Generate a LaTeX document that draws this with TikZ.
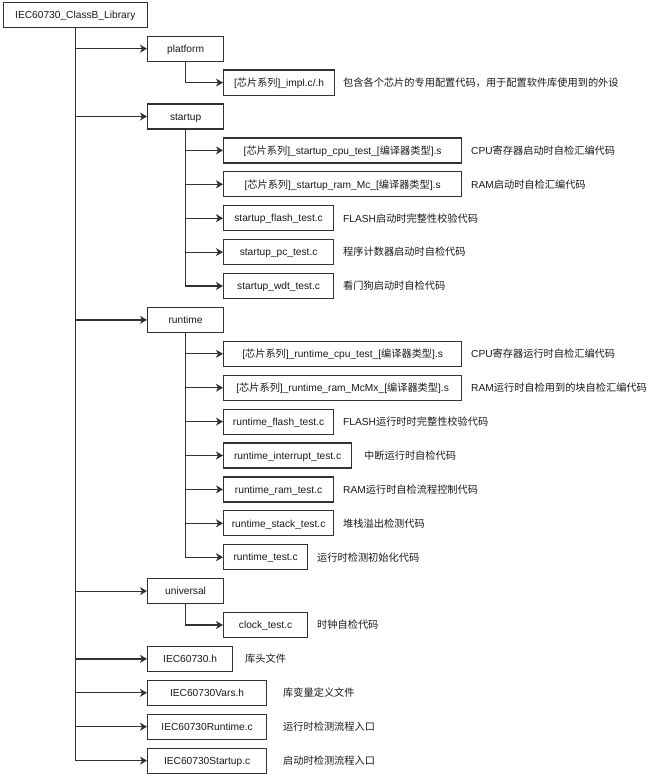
\documentclass[tikz,border=0pt]{standalone}
\usepackage{fontspec}
\setmainfont{Liberation Sans}
\newfontfamily\cjk{Noto Sans CJK SC}
\newcommand{\zh}[1]{{\cjk #1}}
\usetikzlibrary{arrows.meta}

\tikzset{
    box/.style={draw=black!80, line width=1.2pt, anchor=west, minimum height=25,
        inner sep=2pt, text height=9pt, text depth=1.5pt, text=black!90,
        font=\fontsize{10.2}{12}\selectfont},
    note/.style={anchor=west, inner sep=0pt, text=black!90,
        font=\fontsize{10.2}{12}\selectfont},
    link/.style={draw=black!80, line width=1.2pt,
        -{Stealth[length=7pt, width=8pt, inset=2pt]}},
}

\begin{document}
\begin{tikzpicture}[x=1pt, y=-1pt]
    \def \dy {33.9};
    \def \yo {14.8};
    \def \xa {147};
    \def \xb {223};

    \useasboundingbox (0,0) rectangle (659,784);

    % root
    \node[box, minimum width=144] (root) at (2.7, \yo) {IEC60730\_ClassB\_Library};

    % first level
    \node[box, minimum width=76] (platform) at (\xa, \yo+1*\dy) {platform};
    \node[box, minimum width=76] (startup) at (\xa, \yo+3*\dy) {startup};
    \node[box, minimum width=76] (runtime) at (\xa, \yo+9*\dy) {runtime};
    \node[box, minimum width=76] (universal) at (\xa, \yo+17*\dy) {universal};
    \node[box, minimum width=85] (hfile) at (\xa, \yo+19*\dy) {IEC60730.h};
    \node[box, minimum width=119] (vars) at (\xa, \yo+20*\dy) {IEC60730Vars.h};
    \node[box, minimum width=119] (rtmain) at (\xa, \yo+21*\dy) {IEC60730Runtime.c};
    \node[box, minimum width=119] (stmain) at (\xa, \yo+22*\dy) {IEC60730Startup.c};

    % second level
    \node[box, minimum width=111] (impl) at (\xb, \yo+2*\dy) {[\zh{芯片系列}]\_impl.c/.h};

    \node[box, minimum width=238] (scpu) at (\xb, \yo+4*\dy) {[\zh{芯片系列}]\_startup\_cpu\_test\_[\zh{编译器类型}].s};
    \node[box, minimum width=238] (sram) at (\xb, \yo+5*\dy) {[\zh{芯片系列}]\_startup\_ram\_Mc\_[\zh{编译器类型}].s};
    \node[box, minimum width=110] (sflash) at (\xb, \yo+6*\dy) {startup\_flash\_test.c};
    \node[box, minimum width=110] (spc) at (\xb, \yo+7*\dy) {startup\_pc\_test.c};
    \node[box, minimum width=110] (swdt) at (\xb, \yo+8*\dy) {startup\_wdt\_test.c};

    \node[box, minimum width=238] (rcpu) at (\xb, \yo+10*\dy) {[\zh{芯片系列}]\_runtime\_cpu\_test\_[\zh{编译器类型}].s};
    \node[box, minimum width=238] (rram) at (\xb, \yo+11*\dy) {[\zh{芯片系列}]\_runtime\_ram\_McMx\_[\zh{编译器类型}].s};
    \node[box, minimum width=110] (rflash) at (\xb, \yo+12*\dy) {runtime\_flash\_test.c};
    \node[box, minimum width=128] (rint) at (\xb, \yo+13*\dy) {runtime\_interrupt\_test.c};
    \node[box, minimum width=110] (rram2) at (\xb, \yo+14*\dy) {runtime\_ram\_test.c};
    \node[box, minimum width=110] (rstack) at (\xb, \yo+15*\dy) {runtime\_stack\_test.c};
    \node[box, minimum width=84] (rtest) at (\xb, \yo+16*\dy) {runtime\_test.c};

    \node[box, minimum width=84] (clock) at (\xb, \yo+18*\dy) {clock\_test.c};

    % descriptions
    \node[note] (implnote) at (343, \yo+2*\dy) {\zh{包含各个芯片的专用配置代码，用于配置软件库使用到的外设}};
    \node[note] (scpunote) at (471, \yo+4*\dy) {CPU\zh{寄存器启动时自检汇编代码}};
    \node[note] (sramnote) at (471, \yo+5*\dy) {RAM\zh{启动时自检汇编代码}};
    \node[note] (sflashnote) at (343, \yo+6*\dy) {FLASH\zh{启动时完整性校验代码}};
    \node[note] (spcnote) at (343, \yo+7*\dy) {\zh{程序计数器启动时自检代码}};
    \node[note] (swdtnote) at (343, \yo+8*\dy) {\zh{看门狗启动时自检代码}};
    \node[note] (rcpunote) at (471, \yo+10*\dy) {CPU\zh{寄存器运行时自检汇编代码}};
    \node[note] (rramnote) at (471, \yo+11*\dy) {RAM\zh{运行时自检用到的块自检汇编代码}};
    \node[note] (rflashnote) at (343, \yo+12*\dy) {FLASH\zh{运行时时完整性校验代码}};
    \node[note] (rintnote) at (364, \yo+13*\dy) {\zh{中断运行时自检代码}};
    \node[note] (rram2note) at (343, \yo+14*\dy) {RAM\zh{运行时自检流程控制代码}};
    \node[note] (rstacknote) at (343, \yo+15*\dy) {\zh{堆栈溢出检测代码}};
    \node[note] (rtestnote) at (317, \yo+16*\dy) {\zh{运行时检测初始化代码}};
    \node[note] (clocknote) at (317, \yo+18*\dy) {\zh{时钟自检代码}};
    \node[note] (hfilenote) at (245, \yo+19*\dy) {\zh{库头文件}};
    \node[note] (varsnote) at (283, \yo+20*\dy) {\zh{库变量定义文件}};
    \node[note] (rtmainnote) at (283, \yo+21*\dy) {\zh{运行时检测流程入口}};
    \node[note] (stmainnote) at (283, \yo+22*\dy) {\zh{启动时检测流程入口}};

    % tree links
    \foreach \n in {platform, startup, runtime, universal, hfile, vars, rtmain, stmain}
        \draw[link] (root.south) |- (\n.west);
    \draw[link] (platform.south) |- (impl.west);
    \foreach \n in {scpu, sram, sflash, spc, swdt}
        \draw[link] (startup.south) |- (\n.west);
    \foreach \n in {rcpu, rram, rflash, rint, rram2, rstack, rtest}
        \draw[link] (runtime.south) |- (\n.west);
    \draw[link] (universal.south) |- (clock.west);

\end{tikzpicture}
\end{document}
